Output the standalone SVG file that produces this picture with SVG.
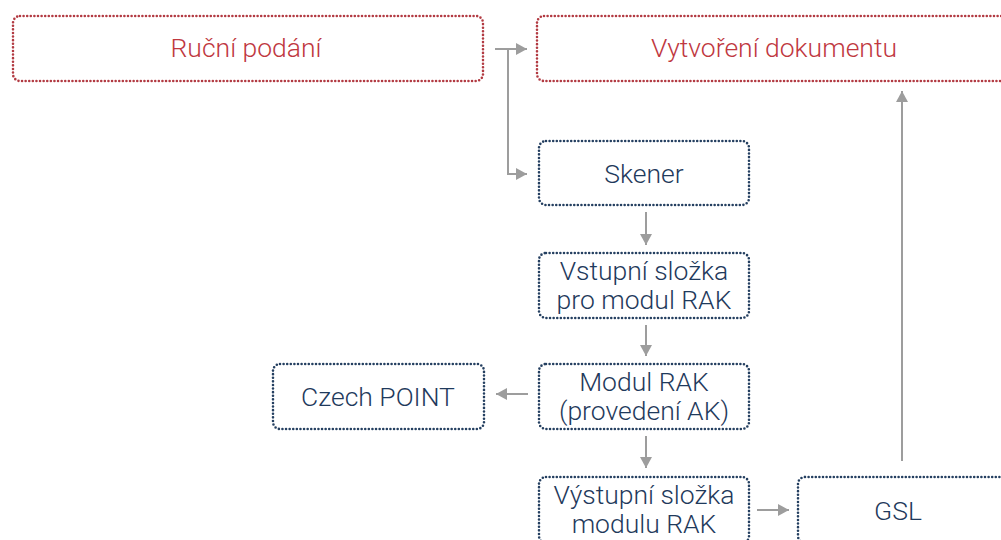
<svg xmlns="http://www.w3.org/2000/svg" width="1001" height="540" viewBox="0 0 1001 540">
  <style>
    .box { fill: #ffffff; stroke-width: 2.6; stroke-dasharray: 0 3.6; stroke-linecap: round; }
    .red { stroke: #b23a42; }
    .blue { stroke: #243f60; }
    .lbl { font-family: Roboto, "Liberation Sans", Arial, sans-serif; font-weight: 300; font-size: 26.5px; text-anchor: middle; }
    .tred { fill: #c0383f; }
    .tblue { fill: #1f3a5c; }
    .conn { fill: none; stroke: #9d9d9d; stroke-width: 2; }
  </style>
  <defs>
    <marker id="arrow" viewBox="0 0 11 12" refX="11" refY="6" markerWidth="11" markerHeight="12" markerUnits="userSpaceOnUse" orient="auto">
      <path d="M0,0 L11,6 L0,12 Z" fill="#9d9d9d"/>
    </marker>
  </defs>

  <rect width="1001" height="540" fill="#ffffff"/>

  <!-- connectors -->
  <g id="connectors">
    <path class="conn" d="M495,49 H527" marker-end="url(#arrow)"/>
    <path class="conn" d="M508,49 V174 H527" marker-end="url(#arrow)"/>
    <path class="conn" d="M646,212 V245" marker-end="url(#arrow)"/>
    <path class="conn" d="M646,325 V356" marker-end="url(#arrow)"/>
    <path class="conn" d="M528,394 H496" marker-end="url(#arrow)"/>
    <path class="conn" d="M646,436 V468" marker-end="url(#arrow)"/>
    <path class="conn" d="M757,510 H789" marker-end="url(#arrow)"/>
    <path class="conn" d="M902,461 V91" marker-end="url(#arrow)"/>
  </g>

  <!-- nodes -->
  <g id="rucni-podani">
    <rect class="box red" x="13" y="16" width="470" height="65" rx="7"/>
    <text class="lbl tred" x="246" y="57">Ruční podání</text>
  </g>
  <g id="vytvoreni-dokumentu">
    <rect class="box red" x="537" y="16" width="472" height="65" rx="7"/>
    <text class="lbl tred" x="774" y="57">Vytvoření dokumentu</text>
  </g>
  <g id="skener">
    <rect class="box blue" x="539" y="141" width="210" height="64" rx="7"/>
    <text class="lbl tblue" x="644" y="183">Skener</text>
  </g>
  <g id="vstupni-slozka">
    <rect class="box blue" x="539" y="253" width="210" height="65" rx="7"/>
    <text class="lbl tblue" x="644" y="280">Vstupní složka</text>
    <text class="lbl tblue" x="644" y="309">pro modul RAK</text>
  </g>
  <g id="modul-rak">
    <rect class="box blue" x="539" y="364" width="210" height="65" rx="7"/>
    <text class="lbl tblue" x="644" y="391">Modul RAK</text>
    <text class="lbl tblue" x="644" y="420">(provedení AK)</text>
  </g>
  <g id="czech-point">
    <rect class="box blue" x="273" y="364" width="211" height="65" rx="7"/>
    <text class="lbl tblue" x="378" y="406">Czech POINT</text>
  </g>
  <g id="vystupni-slozka">
    <rect class="box blue" x="539" y="477" width="210" height="66" rx="7"/>
    <text class="lbl tblue" x="644" y="504">Výstupní složka</text>
    <text class="lbl tblue" x="644" y="533">modulu RAK</text>
  </g>
  <g id="gsl">
    <rect class="box blue" x="798" y="477" width="212" height="66" rx="7"/>
    <text class="lbl tblue" x="898" y="520">GSL</text>
  </g>
</svg>
